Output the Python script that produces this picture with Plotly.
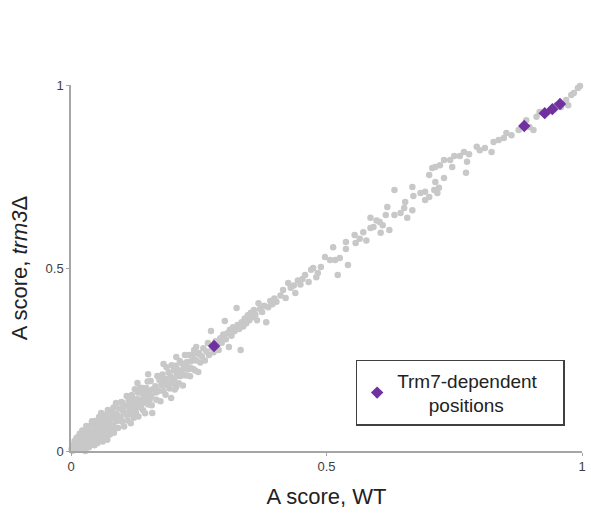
import plotly.graph_objects as go

# ---- grey points: A score WT (x) vs A score trm3Δ (y) ----
wt_a = [0.001,0.003,0.004,0.006,0.007,0.009,0.010,0.011,0.013,0.014,
        0.015,0.017,0.018,0.019,0.021,0.022,0.023,0.025,0.026,0.027,
        0.029,0.030,0.031,0.033,0.034,0.035,0.037,0.038,0.039,0.041,
        0.042,0.043,0.045,0.046,0.047,0.048,0.049,0.050,0.012,0.028]
trm3_a = [0.005,0.001,0.016,0.007,0.027,0.004,0.019,0.036,0.005,0.029,
          0.017,0.047,0.008,0.037,0.018,0.056,0.030,0.010,0.052,0.038,
          0.009,0.068,0.035,0.021,0.056,0.010,0.068,0.051,0.033,0.081,
          0.024,0.070,0.053,0.016,0.082,0.046,0.068,0.028,0.036,0.000]

wt_b = [0.051,0.052,0.053,0.054,0.055,0.056,0.057,0.058,0.059,0.060,
        0.061,0.062,0.063,0.064,0.065,0.066,0.067,0.068,0.069,0.070,
        0.071,0.072,0.073,0.074,0.075,0.076,0.077,0.078,0.079,0.080,
        0.081,0.082,0.083,0.084,0.085,0.086,0.087,0.088,0.089,0.090,
        0.092,0.094,0.096,0.098,0.099]
trm3_b = [0.068,0.022,0.058,0.042,0.093,0.052,0.032,0.079,0.104,0.042,
          0.070,0.026,0.091,0.066,0.056,0.099,0.040,0.082,0.067,0.094,
          0.031,0.112,0.058,0.081,0.094,0.045,0.108,0.072,0.091,0.059,
          0.107,0.071,0.119,0.050,0.088,0.102,0.063,0.131,0.081,0.100,
          0.063,0.116,0.093,0.133,0.083]

wt_c = [0.100,0.101,0.103,0.104,0.105,0.099,0.108,0.109,0.111,0.112,
        0.113,0.115,0.116,0.117,0.119,0.120,0.121,0.123,0.124,0.125,
        0.127,0.128,0.129,0.131,0.132,0.133,0.135,0.136,0.137,0.139,
        0.140,0.141,0.143,0.144,0.145,0.147,0.148,0.150,0.151,0.153,
        0.154,0.156,0.158,0.160,0.159,0.130,0.151,0.181,0.206,0.206,
        0.196]
trm3_c = [0.080,0.131,0.107,0.067,0.123,0.134,0.099,0.150,0.083,0.123,
          0.139,0.100,0.117,0.076,0.153,0.114,0.141,0.091,0.133,0.169,
          0.105,0.142,0.126,0.160,0.094,0.139,0.173,0.119,0.159,0.129,
          0.172,0.111,0.146,0.161,0.103,0.172,0.143,0.190,0.127,0.165,
          0.141,0.191,0.125,0.168,0.104,0.186,0.210,0.238,0.257,0.175,
          0.145]

wt_d = [0.165,0.167,0.169,0.171,0.173,0.175,0.177,0.179,0.181,0.183,
        0.185,0.187,0.189,0.191,0.193,0.195,0.197,0.199,0.201,0.203,
        0.205,0.207,0.209,0.211,0.213,0.215,0.217,0.219,0.221,0.223,
        0.225,0.227,0.229,0.231,0.233,0.235,0.237,0.239,0.241,0.243,
        0.245,0.247,0.249,0.251,0.253]
trm3_d = [0.177,0.140,0.205,0.163,0.194,0.136,0.180,0.209,0.164,0.198,
          0.154,0.229,0.185,0.215,0.171,0.203,0.234,0.186,0.220,0.168,
          0.233,0.206,0.222,0.185,0.246,0.205,0.239,0.179,0.226,0.262,
          0.206,0.243,0.223,0.262,0.204,0.245,0.263,0.224,0.276,0.220,
          0.247,0.267,0.216,0.265,0.242]

wt_fill = [0.008,0.016,0.024,0.032,0.044,0.053,0.061,0.069,0.077,0.085,
           0.093,0.102,0.110,0.118,0.126,0.134,0.142,0.149,0.157,0.163,
           0.170,0.178,0.186,0.194,0.202,0.210,0.218,0.226,0.234,0.242,
           0.020,0.036,0.058,0.074,0.097,0.114,0.138,0.166,0.188,0.212]
trm3_fill = [0.011,0.022,0.020,0.041,0.040,0.060,0.056,0.076,0.071,0.091,
             0.087,0.109,0.104,0.126,0.118,0.141,0.135,0.158,0.150,0.171,
             0.165,0.186,0.180,0.201,0.196,0.217,0.211,0.233,0.227,0.250,
             0.013,0.029,0.050,0.066,0.090,0.107,0.131,0.160,0.182,0.205]

wt_e = [0.245,0.250,0.256,0.259,0.262,0.265,0.268,0.270,0.274,0.276,
        0.279,0.283,0.286,0.289,0.292,0.295,0.298,0.301,0.303,0.306,
        0.309,0.311,0.314,0.317,0.320,0.324,0.326,0.329,0.332,0.334,
        0.337,0.340,0.343,0.346,0.349,0.352,0.355,0.358,0.361,0.367,
        0.364,0.370,0.374,0.378,0.382,0.386,0.390,0.394,0.398,0.402]
trm3_e = [0.284,0.268,0.258,0.281,0.247,0.272,0.295,0.262,0.328,0.281,
          0.270,0.300,0.289,0.276,0.308,0.296,0.318,0.355,0.305,0.322,
          0.284,0.331,0.315,0.338,0.327,0.391,0.344,0.333,0.276,0.352,
          0.340,0.362,0.349,0.371,0.357,0.378,0.366,0.385,0.373,0.404,
          0.357,0.388,0.380,0.397,0.352,0.393,0.410,0.401,0.417,0.408]

wt_f = [0.410,0.415,0.420,0.425,0.430,0.436,0.439,0.444,0.449,0.453,
        0.458,0.474,0.483,0.489,0.480,0.497,0.507,0.517,0.526,0.522,
        0.542,0.513,0.538,0.538,0.557,0.555,0.586,0.586,0.604,0.610,
        0.606,0.623,0.616,0.619,0.633,0.633,0.645,0.654,0.652,0.658,
        0.668,0.670,0.668,0.684,0.693,0.701,0.711,0.717,0.720,0.693,
        0.713,0.730,0.470,0.465,0.565,0.572,0.578,0.592,0.598]
trm3_f = [0.425,0.440,0.418,0.459,0.446,0.452,0.432,0.466,0.455,0.470,
          0.481,0.500,0.486,0.503,0.475,0.530,0.522,0.522,0.527,0.481,
          0.508,0.557,0.552,0.571,0.568,0.590,0.637,0.609,0.626,0.617,
          0.596,0.604,0.645,0.667,0.645,0.713,0.650,0.680,0.664,0.637,
          0.658,0.697,0.721,0.705,0.708,0.694,0.713,0.705,0.719,0.686,
          0.735,0.746,0.495,0.462,0.580,0.598,0.575,0.612,0.630]

wt_g = [0.701,0.707,0.713,0.722,0.730,0.742,0.750,0.746,0.761,0.769,
        0.779,0.775,0.773,0.794,0.800,0.810,0.823,0.827,0.837,0.852,
        0.862,0.847,0.876,0.897,0.905,0.891,0.911,0.917,0.950,0.959,
        0.969,0.979,0.984,0.992,0.996,0.973]
trm3_g = [0.754,0.773,0.776,0.781,0.795,0.795,0.806,0.776,0.806,0.817,
          0.811,0.790,0.760,0.831,0.822,0.828,0.817,0.844,0.850,0.869,
          0.863,0.855,0.877,0.885,0.877,0.904,0.913,0.926,0.945,0.940,
          0.959,0.973,0.978,0.992,0.997,0.945]

# ---- Trm7-dependent positions (purple diamonds) ----
trm7_wt = [0.280, 0.887, 0.927, 0.942, 0.957]
trm7_trm3 = [0.287, 0.888, 0.923, 0.934, 0.948]

tick_vals = [0, 0.5, 1]
tick_text = ["0", "0.5", "1"]

grey_wt = wt_a + wt_b + wt_c + wt_d + wt_fill + wt_e + wt_f + wt_g
grey_trm3 = trm3_a + trm3_b + trm3_c + trm3_d + trm3_fill + trm3_e + trm3_f + trm3_g

NB = "\u00a0"

fig = go.Figure()
fig.add_trace(go.Scatter(
    x=grey_wt, y=grey_trm3, mode="markers",
    marker=dict(color="#c8c8c8", size=6.5, line=dict(width=0)),
    showlegend=False, hoverinfo="skip", cliponaxis=False))
fig.add_trace(go.Scatter(
    x=trm7_wt, y=trm7_trm3, mode="markers",
    marker=dict(symbol="diamond", color="#7030a0", size=9.5, line=dict(width=0)),
    name="Trm7-dependent" + NB * 4 + "<br>" + NB * 6 + "positions",
    cliponaxis=False))

axis_common = dict(
    range=[0, 1], tickvals=tick_vals, ticktext=tick_text,
    showgrid=False, zeroline=False, showline=True,
    linecolor="#a6a6a6", linewidth=1.5,
    ticks="outside", ticklen=3, tickcolor="#a6a6a6",
    tickfont=dict(family="Liberation Sans, Arial", size=13, color="#404040"),
)

fig.update_layout(
    width=591, height=514,
    margin=dict(l=71, r=5, t=85, b=63),
    paper_bgcolor="white", plot_bgcolor="white",
    font=dict(family="Liberation Sans, Arial", color="#222222"),
    xaxis=dict(**axis_common,
               title=dict(text="A score, WT", font=dict(size=22, color="#222222"), standoff=15)),
    yaxis=dict(**axis_common,
               title=dict(text="A score, <i>trm3</i>Δ", font=dict(size=22, color="#222222"), standoff=12)),
    legend=dict(x=0.557, y=0.249, xanchor="left", yanchor="top",
                bordercolor="#404040", borderwidth=1.5, bgcolor="white",
                font=dict(size=19, color="#222222")),
)

fig.write_html("out.html")
